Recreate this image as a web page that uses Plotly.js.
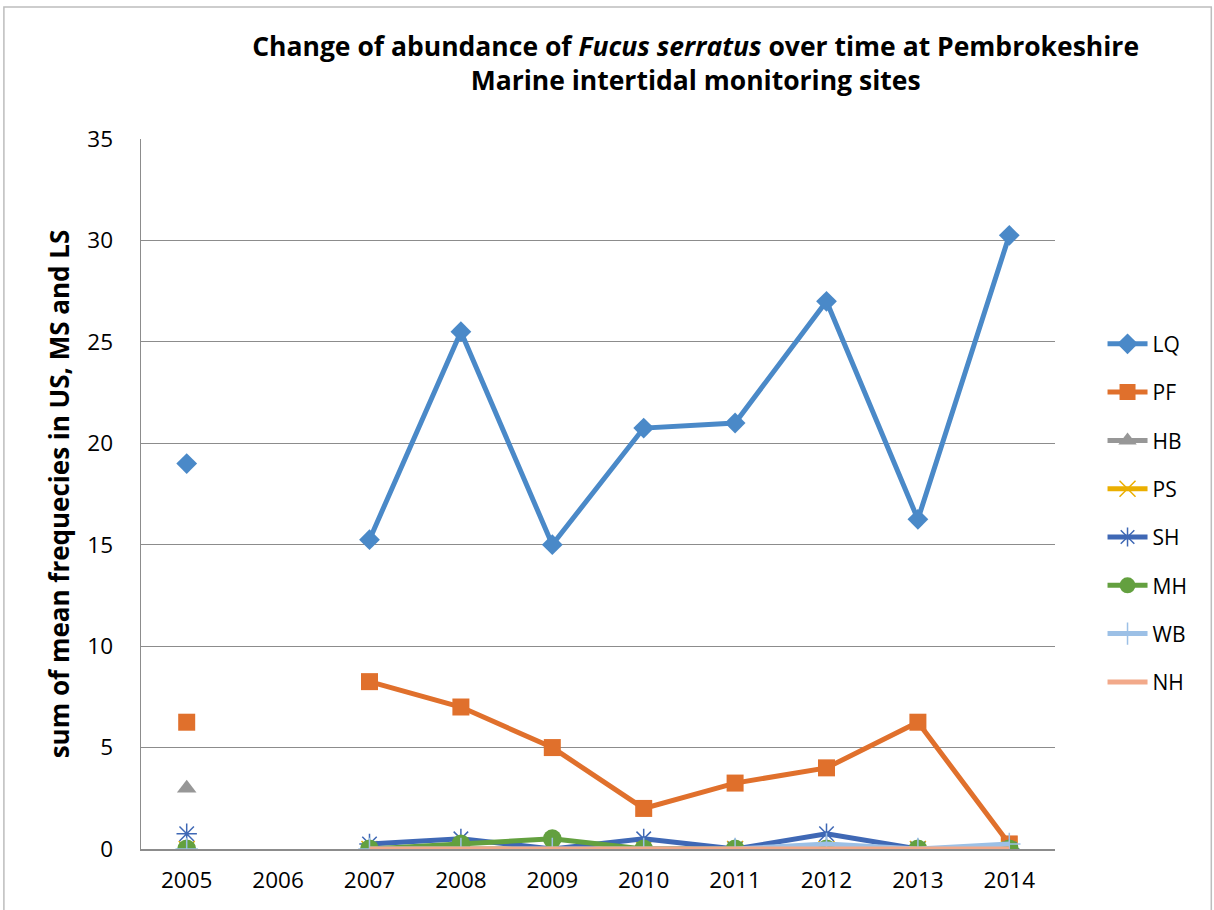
<!DOCTYPE html>
<html><head><meta charset="utf-8">
<script src="https://cdn.plot.ly/plotly-3.0.1.min.js"></script>
<style>html,body{margin:0;padding:0;background:#fff}#chart{width:1214px;height:910px}</style>
</head><body><div id="chart"></div>
<script>
const years = ["2005","2006","2007","2008","2009","2010","2011","2012","2013","2014"];
const LQ = [19, null, 15.25, 25.5, 15, 20.75, 21, 27, 16.25, 30.25];
const PF = [6.25, null, 8.25, 7, 5, 2, 3.25, 4, 6.25, 0.25];
const HB = [3, null, 0, 0, 0, 0, 0, 0, 0, 0];
const PS = [0, null, 0, 0, 0, 0, 0, 0, 0, 0];
const SH = [0.75, null, 0.25, 0.5, 0, 0.5, 0, 0.75, 0, 0];
const MH = [0, null, 0, 0.25, 0.5, 0, 0, 0, 0, 0];
const WB = [0, null, 0, 0, 0, 0, 0, 0.25, 0, 0.25];
const NH = [null, null, 0, 0, 0, 0, 0, 0, 0, 0];
const yTicks = [0, 5, 10, 15, 20, 25, 30, 35];

const series = [
  {name:"LQ", y:LQ, color:"#4A89C8", symbol:"diamond", size:16},
  {name:"PF", y:PF, color:"#E0702C", symbol:"square", size:17},
  {name:"HB", y:HB, color:"#979797", symbol:"triangle-up", size:17},
  {name:"PS", y:PS, color:"#EBAF00", symbol:"x-thin", size:16},
  {name:"SH", y:SH, color:"#3F68B5", symbol:"asterisk", size:17},
  {name:"MH", y:MH, color:"#63A03F", symbol:"circle", size:19},
  {name:"WB", y:WB, color:"#9CC0E6", symbol:"cross-thin", size:16},
  {name:"NH", y:NH, color:"#F2A98A", symbol:null, size:0}
];

const traces = series.map((s, i) => {
  const t = {
    type: "scatter",
    x: years,
    y: s.y,
    name: s.name,
    legendgroup: "g" + i,
    mode: s.symbol ? "lines+markers" : "lines",
    connectgaps: false,
    line: {color: s.color, width: 5}
  };
  if (s.symbol) {
    const thin = s.symbol.indexOf("thin") >= 0 || s.symbol === "asterisk";
    t.marker = {symbol: s.symbol, size: s.size, color: s.color,
      line: {color: s.color, width: thin ? 1.5 : 0}};
  }
  return t;
});

const layout = {
  width: 1214, height: 910,
  margin: {l: 141, r: 159, t: 139, b: 61},
  paper_bgcolor: "#fff", plot_bgcolor: "#fff",
  font: {family: "Open Sans, sans-serif", color: "#000"},
  title: {
    text: "<b>Change of abundance of <i>Fucus serratus</i> over time at Pembrokeshire<br>Marine intertidal monitoring sites</b>",
    font: {size: 26.5, color: "#000", family: "Open Sans, sans-serif"},
    x: 0.573, xanchor: "center", y: 0.939, yanchor: "middle"
  },
  xaxis: {
    type: "category", range: [-0.5, 9.5],
    showgrid: false, showline: true, linecolor: "#8c8c8c", linewidth: 1.5,
    ticks: "", tickfont: {size: 22.5, color: "#000"}, ticklabelstandoff: 10,
    zeroline: false, fixedrange: true, automargin: false
  },
  yaxis: {
    range: [0, 35], tickvals: yTicks, ticktext: yTicks.map(String),
    showgrid: true, gridcolor: "#8c8c8c", gridwidth: 1,
    showline: true, linecolor: "#8c8c8c", linewidth: 1.5,
    ticks: "", tickfont: {size: 22.5, color: "#000"}, ticklabelstandoff: 22,
    zeroline: false, automargin: false,
    title: {text: "<b>sum of mean frequecies in US, MS and LS</b>", font: {size: 26, color: "#000"}, standoff: 10}
  },
  legend: {
    x: 1.052, xanchor: "left", y: 0.473, yanchor: "middle",
    font: {size: 21, color: "#000"},
    traceorder: "grouped", tracegroupgap: 18, itemwidth: 40,
    bgcolor: "rgba(0,0,0,0)"
  },
  shapes: [{
    type: "rect", xref: "paper", yref: "paper",
    x0: -0.150, x1: 1.171, y0: -0.2, y1: 1.186,
    line: {color: "#bdbdbd", width: 1.5}, fillcolor: "rgba(0,0,0,0)", layer: "below"
  }]
};

Plotly.newPlot("chart", traces, layout, {displayModeBar: false, staticPlot: true});
</script></body></html>
